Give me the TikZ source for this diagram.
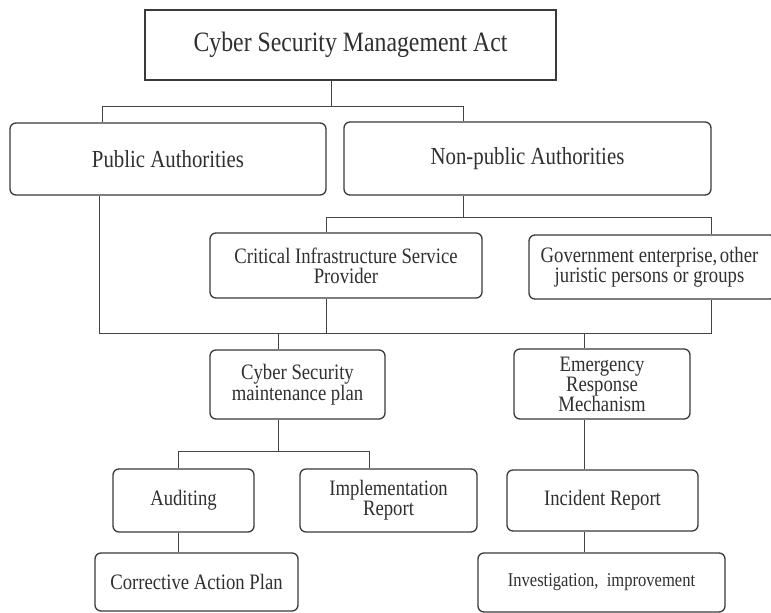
\documentclass[tikz,border=0pt]{standalone}
\usepackage{fontspec}
\setmainfont{Liberation Serif}[FakeStretch=0.85]
\definecolor{boxline}{HTML}{3A3A3A}
\definecolor{conline}{HTML}{444444}
\definecolor{txt}{HTML}{303030}
\begin{document}
\begin{tikzpicture}[x=1pt,y=-1pt,
  box/.style={draw=boxline,line width=1.3pt,rounded corners=6pt,inner sep=0pt,align=center,text=txt,
    font=\fontsize{22}{20}\selectfont},
  con/.style={draw=conline,line width=1pt}]
\useasboundingbox (0,0) rectangle (771,613);
\clip (0,0) rectangle (771,613);
\fill[white] (0,0) rectangle (771,613);
% nodes
\node[box,rounded corners=0pt,minimum width=411,minimum height=70,font=\fontsize{28}{28}\selectfont] (title) at (350.5,45) {Cyber Security Management Act};
\node[box,minimum width=316,minimum height=72,font=\fontsize{24.5}{24}\selectfont] (pub) at (168,159) {Public Authorities};
\node[box,minimum width=367,minimum height=73,font=\fontsize{24.5}{24}\selectfont] (nonpub) at (527.5,158.5) {Non-public Authorities};
\node[box,minimum width=272,minimum height=65] (cisp) at (346,265.5) {Critical Infrastructure Service\\Provider};
\node[box,minimum width=247,minimum height=64] (gov) at (652.5,267) {\hspace*{-6pt}Government enterprise,\hspace{-2pt} other\\\hspace*{-6pt}juristic persons or\ groups};
\node[box,minimum width=175,minimum height=69] (csmp) at (297.5,384.5) {Cyber Security\\maintenance plan};
\node[box,minimum width=176,minimum height=70] (erm) at (602,384) {Emergency\\Response\\Mechanism};
\node[box,minimum width=141,minimum height=63] (aud) at (183.5,500.5) {Auditing};
\node[box,minimum width=177,minimum height=63] (impl) at (388.5,500.5) {Implementation\\Report};
\node[box,minimum width=191,minimum height=61] (inc) at (602.5,500.5) {Incident Report};
\node[box,minimum width=203,minimum height=58] (corr) at (196.5,582) {Corrective Action Plan};
\node[box,minimum width=247,minimum height=59,font=\fontsize{19.5}{20}\selectfont] (inv) at (601.5,582.5) {Investigation,\ \ improvement};
% junction coordinates
\coordinate (t1) at (331,106);
\coordinate (t1l) at (102,106);
\coordinate (t1r) at (463,106);
\coordinate (n1) at (463,217);
\coordinate (n1l) at (326,217);
\coordinate (n1r) at (711,217);
\coordinate (b1l) at (99,333);
\coordinate (b1r) at (711,333);
\coordinate (b1c) at (326,333);
\coordinate (b1a) at (278,333);
\coordinate (b1e) at (584,333);
\coordinate (c1) at (278,451);
\coordinate (c1l) at (178,451);
\coordinate (c1r) at (369,451);
% connectors
\draw[con] (title.south -| t1) -- (t1)
  (t1l |- pub.north) -- (t1l) -- (t1r) -- (t1r |- nonpub.north);
\draw[con] (nonpub.south -| n1) -- (n1)
  (n1l |- cisp.north) -- (n1l) -- (n1r) -- (n1r |- gov.north);
\draw[con] (b1l |- pub.south) -- (b1l) -- (b1r) -- (b1r |- gov.south);
\draw[con] (b1c |- cisp.south) -- (b1c);
\draw[con] (b1a) -- (b1a |- csmp.north);
\draw[con] (b1e) -- (b1e |- erm.north);
\draw[con] (csmp.south -| c1) -- (c1)
  (c1l |- aud.north) -- (c1l) -- (c1r) -- (c1r |- impl.north);
\draw[con] (aud.south -| c1l) -- (c1l |- corr.north);
\draw[con] (erm.south -| b1e) -- (b1e |- inc.north);
\draw[con] (inc.south -| b1e) -- (b1e |- inv.north);
\end{tikzpicture}
\end{document}
